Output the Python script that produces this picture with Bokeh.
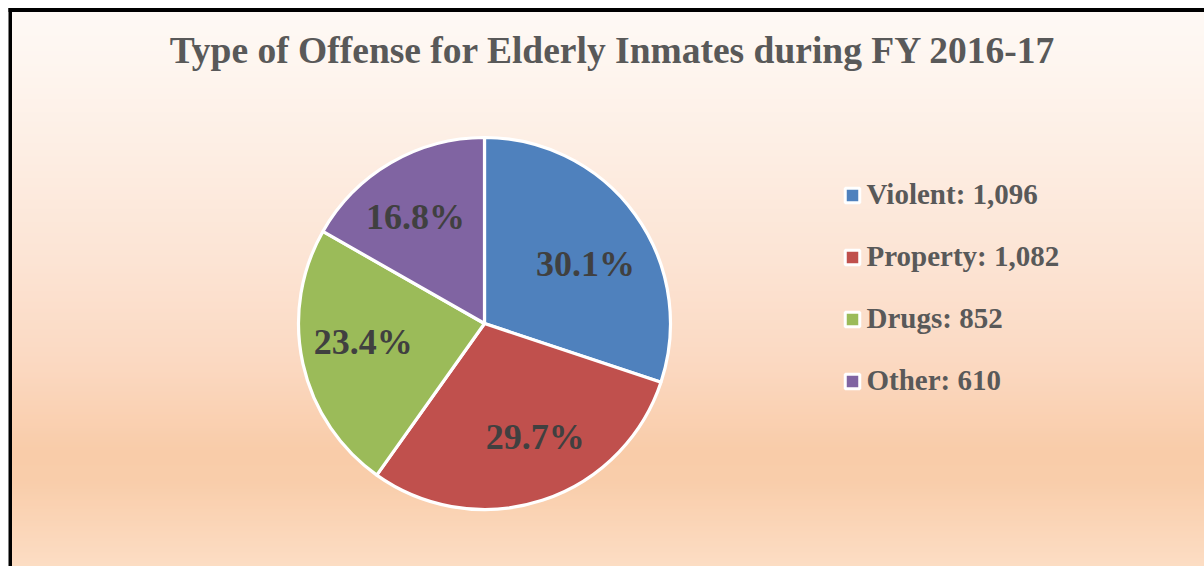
import numpy as np
from bokeh.plotting import figure
from bokeh.models import Range1d, ColumnDataSource
from bokeh.core.properties import value
from bokeh.embed import file_html
from bokeh.resources import INLINE

# ---- data ----
title_text = "Type of Offense for Elderly Inmates during FY 2016-17"
categories = ["Violent", "Property", "Drugs", "Other"]
counts = [1096, 1082, 852, 610]
colors = ["#4F81BD", "#C0504D", "#9BBB59", "#8064A2"]

# ---- layout ----
W, H = 1204, 566
p = figure(width=W, height=H, output_backend="svg", toolbar_location=None,
           x_range=Range1d(0, W), y_range=Range1d(0, H),
           x_axis_location=None, y_axis_location=None, min_border=0)
p.xgrid.visible = False
p.ygrid.visible = False
p.outline_line_color = None
p.background_fill_color = "#FFFFFF"
p.border_fill_color = "#FFFFFF"

def sy(Y):  # screen y -> data y
    return H - Y

TXT_SHIFT = 13  # empirical baseline correction for svg text

# gradient background (decoration)
stops_y = [11, 60, 160, 260, 360, 450, 480, 566]
stops_c = [(254, 249, 245), (254, 246, 240), (253, 237, 226), (252, 228, 212),
           (251, 217, 194), (249, 204, 169), (249, 205, 170), (252, 221, 196)]
bands = np.arange(11, 566, 2)
g_cols = []
for Y in bands:
    c = [int(round(np.interp(Y + 1, stops_y, [s[k] for s in stops_c]))) for k in range(3)]
    g_cols.append("#%02X%02X%02X" % tuple(c))
p.quad(left=11, right=W, top=[sy(Y) for Y in bands], bottom=[sy(Y + 2) - 0.5 for Y in bands],
       fill_color=g_cols, line_color=None)

# black border (left and top visible)
p.quad(left=[8, 8], right=[11.5, W], top=[sy(7.5), sy(7.5)], bottom=[0, sy(11.5)],
       fill_color="black", line_color=None)

# ---- pie ----
total = float(sum(counts))
fracs = [c / total for c in counts]
cum = np.concatenate([[0.0], np.cumsum(fracs)])
start = [np.pi / 2 - 2 * np.pi * cum[i + 1] for i in range(len(counts))]
end = [np.pi / 2 - 2 * np.pi * cum[i] for i in range(len(counts))]
cx, cy, r = 484, sy(323), 186
src = ColumnDataSource(dict(start=start, end=end, color=colors))
p.wedge(x=cx, y=cy, radius=r, start_angle="start", end_angle="end", direction="anticlock",
        fill_color="color", line_color="white", line_width=3.2, source=src)

# label placement (layout): radial factor and clockwise angle nudge per slice
lab_fac = [0.629, 0.671, 0.659, 0.680]
lab_nudge = [5.5, -5.9, 3.7, -2.9]
mid = [(s + e) / 2 - np.radians(d) for s, e, d in zip(start, end, lab_nudge)]
labels = ["%.1f%%" % (f * 100) for f in fracs]
lx = [cx + f * r * np.cos(m) for f, m in zip(lab_fac, mid)]
ly = [cy + f * r * np.sin(m) - 12.5 + TXT_SHIFT for f, m in zip(lab_fac, mid)]
p.text(x=lx, y=ly, text=labels, text_font=value("Liberation Serif"), text_font_style="bold",
       text_font_size="36px", text_color="#404040", text_align="center",
       text_baseline="alphabetic")

# ---- title ----
p.text(x=[612.5], y=[sy(63) + TXT_SHIFT], text=[title_text], text_font=value("Liberation Serif"),
       text_font_style="bold", text_font_size="37.5px", text_color="#595959",
       text_align="center", text_baseline="alphabetic")

# ---- legend ----
leg_y = [sy(195 + i * 62) for i in range(len(categories))]
p.scatter(x=[852] * len(categories), y=leg_y, marker="square", size=14.5,
          fill_color=colors, line_color="white", line_width=3)
leg_text = ["%s: %s" % (c, format(n, ",")) for c, n in zip(categories, counts)]
p.text(x=[866] * len(categories), y=[y - 11.5 + TXT_SHIFT for y in leg_y], text=leg_text,
       text_font=value("Liberation Serif"), text_font_style="bold", text_font_size="29px",
       text_color="#595959", text_align="left", text_baseline="alphabetic")

open("out.html", "w").write(file_html(p, INLINE))
